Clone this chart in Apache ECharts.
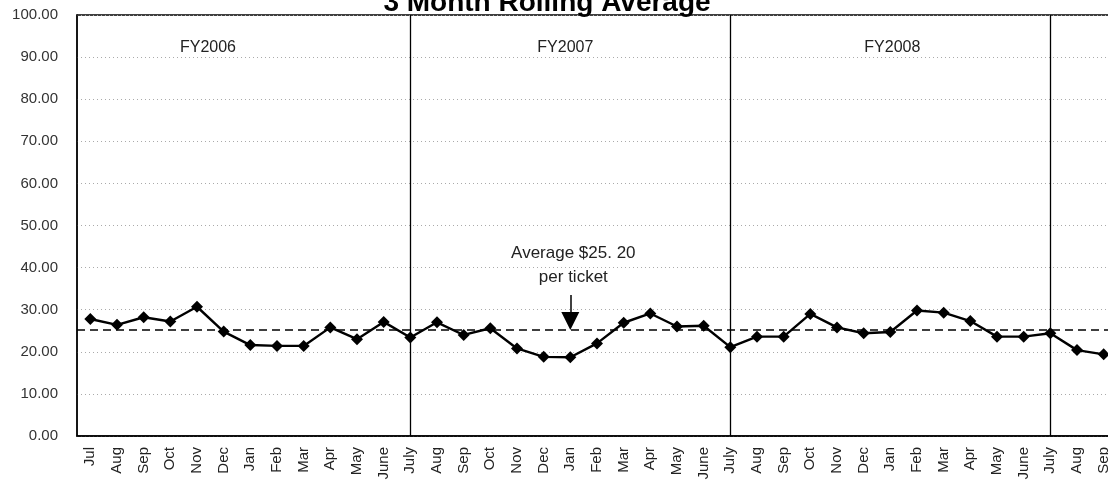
<!DOCTYPE html>
<html>
<head>
<meta charset="UTF-8">
<title>3 Month Rolling Average</title>
<script type="text/javascript" src="https://cdn.jsdelivr.net/npm/echarts@6/dist/echarts.min.js"></script>
<style>
  html, body { margin: 0; padding: 0; background: #fff; }
  #main { width: 1108px; height: 483px; }
</style>
</head>
<body>
<div id="main"></div>
<script type="text/javascript">
// months Jul 2005 .. Sep 2008
var months = ['Jul','Aug','Sep','Oct','Nov','Dec','Jan','Feb','Mar','Apr','May','June',
              'July','Aug','Sep','Oct','Nov','Dec','Jan','Feb','Mar','Apr','May','June',
              'July','Aug','Sep','Oct','Nov','Dec','Jan','Feb','Mar','Apr','May','June',
              'July','Aug','Sep'];
var rollingAvg = [27.8, 26.4, 28.2, 27.2, 30.7, 24.8, 21.6, 21.4, 21.4, 25.8, 23.0, 27.1,
                  23.4, 27.0, 24.0, 25.6, 20.8, 18.8, 18.7, 22.0, 26.9, 29.1, 26.0, 26.2,
                  21.1, 23.6, 23.6, 29.0, 25.8, 24.4, 24.7, 29.8, 29.3, 27.3, 23.6, 23.6,
                  24.4, 20.4, 19.4];
var yearStarts = [12, 24, 36];          // index of each July
var fyLabels = ['FY2006', 'FY2007', 'FY2008'];
var fyAt = [4, 18, 30];
var average = 25.2;

var font = '"Liberation Sans", Arial, sans-serif';
var myChart = echarts.init(document.getElementById('main'));

var fyPoints = [];
var fyOffsets = [[11, 0], [-5, 0], [2, 0]];
for (var i = 0; i < fyLabels.length; i++) {
  fyPoints.push({
    coord: [fyAt[i], 92.2],
    value: fyLabels[i],
    label: { offset: fyOffsets[i] }
  });
}

var lines = [];
for (var j = 0; j < yearStarts.length; j++) {
  lines.push({ xAxis: yearStarts[j], lineStyle: { color: '#000', width: 1.3, type: 'solid' } });
}
lines.push({ yAxis: average, lineStyle: { color: '#000', width: 1.6, type: [8, 5] } });
// arrow pointing at the average line
lines.push([
  { coord: [18, 33.5], symbol: 'none' },
  { coord: [18, 27.3], symbol: 'triangle', symbolSize: 18, lineStyle: { color: '#000', width: 1.5, type: 'solid' } }
]);

var option = {
  animation: false,
  title: {
    text: '3 Month Rolling Average',
    left: 542,
    textAlign: 'center',
    top: -16,
    textStyle: { fontFamily: font, fontSize: 28, fontWeight: 'bold', color: '#000' }
  },
  grid: {
    left: 77, top: 15, bottom: 47, right: -9,
    outerBoundsMode: 'none',
    show: true, borderColor: '#000', borderWidth: 1.3
  },
  xAxis: {
    type: 'category',
    data: months,
    boundaryGap: true,
    axisLine: { lineStyle: { color: '#000', width: 1.5 } },
    axisTick: { show: false },
    axisLabel: {
      interval: 0, rotate: 90, margin: 11,
      fontFamily: font, fontSize: 15, color: '#222'
    },
    splitLine: { show: false }
  },
  yAxis: {
    type: 'value',
    min: 0, max: 100, interval: 10,
    axisLine: { show: true, lineStyle: { color: '#000', width: 1.5 } },
    axisTick: { show: false },
    axisLabel: {
      margin: 19,
      fontFamily: font, fontSize: 15, color: '#333',
      formatter: function (v) { return v.toFixed(2); }
    },
    splitLine: { lineStyle: { color: '#aaa', width: 1, type: [1, 3] } }
  },
  series: [{
    name: '3 Month Rolling Average',
    type: 'line',
    data: rollingAvg,
    symbol: 'diamond',
    symbolSize: 12,
    itemStyle: { color: '#000' },
    lineStyle: { color: '#000', width: 2.4 },
    z: 5,
    markLine: {
      silent: true,
      symbol: 'none',
      label: { show: false },
      data: lines,
      z: 3
    },
    markPoint: {
      silent: true,
      symbolSize: 0,
      label: {
        show: true, position: 'inside',
        fontFamily: font, fontSize: 16, color: '#222',
        formatter: function (p) { return p.value; }
      },
      data: fyPoints.concat([{
        coord: [18, 40.6],
        value: 'Average $25. 20\nper ticket',
        label: { fontSize: 17, lineHeight: 24, align: 'center', offset: [3, 0] }
      }])
    }
  }]
};
myChart.setOption(option);
</script>
</body>
</html>
